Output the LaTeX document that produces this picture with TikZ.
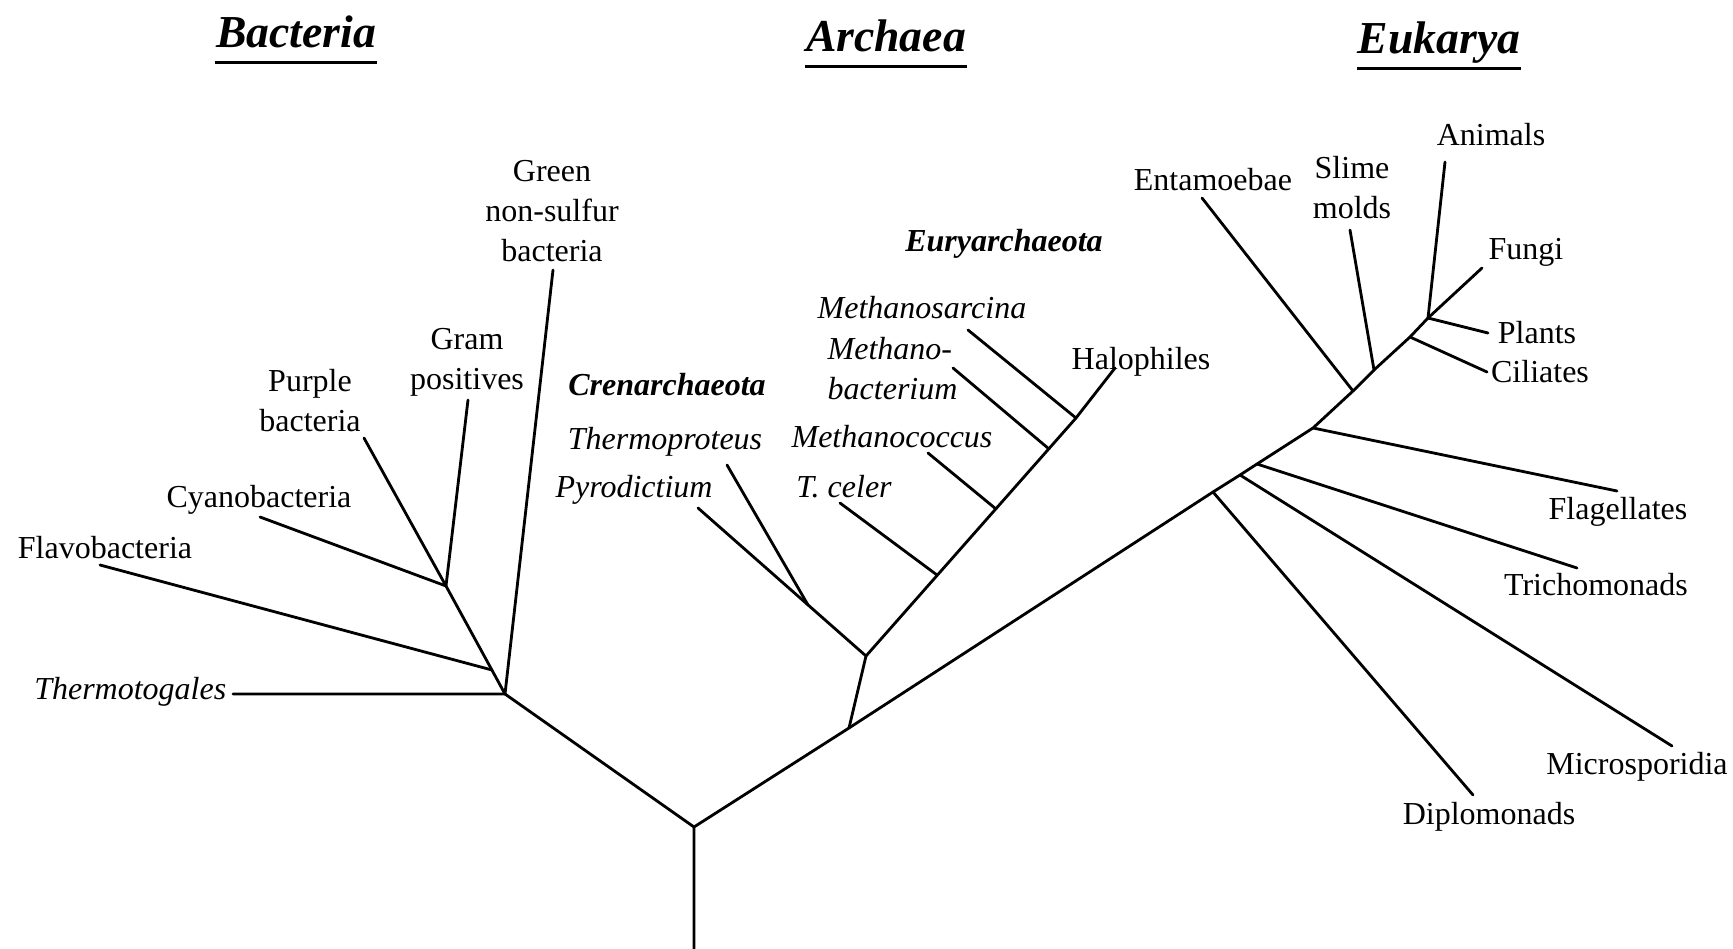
\documentclass[tikz,border=0pt]{standalone}
\usepackage{fontspec}
\setmainfont{Liberation Serif}
\usepackage{tikz}
\usetikzlibrary{positioning}
\tikzstyle{taxon} = [inner sep=0pt, align=center, font=\fontsize{9.1}{11.4}\selectfont]
\tikzstyle{genus} = [taxon, font=\fontsize{9.1}{11.4}\selectfont\itshape]
\tikzstyle{phylum} = [taxon, font=\fontsize{9.1}{11.4}\selectfont\bfseries\itshape]
\tikzstyle{realm} = [inner sep=0pt, anchor=base, font=\fontsize{13}{15}\selectfont\bfseries\itshape]
\tikzstyle{twig} = [line width=0.8pt, line cap=round]
\tikzstyle{uline} = [line width=1.1pt]
\def\ul{0.145cm}

\begin{document}
\begin{tikzpicture}[x=0.01cm, y=-0.01cm]
\useasboundingbox (0,0) rectangle (1733,949);

% domains
\node (bact) [realm] at (296,48) {Bacteria};
\node (arch) [realm] at (886,52) {Archaea};
\node (euk) [realm] at (1439,54) {Eukarya};
\draw [uline] ([yshift=-\ul]bact.base west) -- ([yshift=-\ul]bact.base east);
\draw [uline] ([yshift=-\ul]arch.base west) -- ([yshift=-\ul]arch.base east);
\draw [uline] ([yshift=-\ul]euk.base west) -- ([yshift=-\ul]euk.base east);

% junctions
\coordinate (rootEnd) at (694,949);
\coordinate (root) at (694,827);
\coordinate (bJ) at (505,694);
\coordinate (bFla) at (492,670);
\coordinate (bSub) at (446,586);
\coordinate (aJ) at (849,728);
\coordinate (aSplit) at (866,656);
\coordinate (cThp) at (808,605);
\coordinate (eTce) at (937,575);
\coordinate (eMco) at (996,509);
\coordinate (eMba) at (1049,449);
\coordinate (eMsa) at (1076,418);
\coordinate (kDip) at (1213,492);
\coordinate (kMic) at (1240,475);
\coordinate (kTri) at (1257,464);
\coordinate (kFla) at (1313,428);
\coordinate (kEnt) at (1353,391);
\coordinate (kSli) at (1374,370);
\coordinate (kCil) at (1410,337);
\coordinate (kTop) at (1428,318);

% tips
\coordinate (thermoEnd) at (233,694);
\coordinate (flavEnd) at (100,565);
\coordinate (cyanoEnd) at (260,517);
\coordinate (purpleEnd) at (364,438);
\coordinate (gramEnd) at (468,400);
\coordinate (greenEnd) at (553,270);
\coordinate (pyroEnd) at (698,508);
\coordinate (thpEnd) at (727,465);
\coordinate (tceEnd) at (840,503);
\coordinate (mcoEnd) at (928,453);
\coordinate (mbaEnd) at (953,368);
\coordinate (msaEnd) at (968,330);
\coordinate (haloEnd) at (1115,368);
\coordinate (dipEnd) at (1473,795);
\coordinate (micEnd) at (1672,746);
\coordinate (triEnd) at (1577,568);
\coordinate (flaEnd) at (1617,491);
\coordinate (entEnd) at (1202,198);
\coordinate (sliEnd) at (1350,230);
\coordinate (aniEnd) at (1445,162);
\coordinate (funEnd) at (1482,268);
\coordinate (plaEnd) at (1488,333);
\coordinate (cilEnd) at (1487,372);

% labels
\node (thermo) [genus, anchor=east] at (227,692) {Thermotogales};
\node (flav) [taxon] at (105,548) {Flavobacteria};
\node (cyano) [taxon] at (259,500) {Cyanobacteria};
\node (purple) [taxon] at (310,401) {Purple\\bacteria};
\node (gram) [taxon] at (467,362) {Gram\\positives};
\node (green) [taxon] at (552,211) {Green\\non-sulfur\\bacteria};

\node (cren) [phylum] at (667,385) {Crenarchaeota};
\node (thp) [genus] at (665,442) {Thermoproteus};
\node (pyro) [genus] at (634,490) {Pyrodictium};
\node (eury) [phylum] at (1004,244) {Euryarchaeota};
\node (msa) [genus] at (922,308) {Methanosarcina};
\node (mba) [genus, align=left, anchor=west] at (827,369) {Methano-\\bacterium};
\node (mco) [genus] at (892,437) {Methanococcus};
\node (tce) [genus] at (844,487) {T.~celer};
\node (halo) [taxon] at (1141,362) {Halophiles};

\node (ent) [taxon] at (1213,180) {Entamoebae};
\node (sli) [taxon] at (1352,188) {Slime\\molds};
\node (ani) [taxon] at (1491,135) {Animals};
\node (fun) [taxon] at (1526,252) {Fungi};
\node (pla) [taxon] at (1537,333) {Plants};
\node (cil) [taxon] at (1540,372) {Ciliates};
\node (fla) [taxon] at (1618,512) {Flagellates};
\node (tri) [taxon] at (1596,585) {Trichomonads};
\node (mic) [taxon] at (1637,767) {Microsporidia};
\node (dip) [taxon] at (1489,817) {Diplomonads};

% trunk
\draw [twig] (rootEnd) -- (root) -- (aJ) -- (kDip) -- (kMic) -- (kTri) -- (kFla) -- (kEnt) -- (kSli) -- (kCil) -- (kTop);
\draw [twig] (root) -- (bJ);

% bacteria
\draw [twig] (thermoEnd) -- (bJ) -- (greenEnd);
\draw [twig] (bJ) -- (bSub);
\draw [twig] (bFla) -- (flavEnd);
\draw [twig] (bSub) -- (cyanoEnd);
\draw [twig] (bSub) -- (purpleEnd);
\draw [twig] (bSub) -- (gramEnd);

% archaea
\draw [twig] (aJ) -- (aSplit) -- (pyroEnd);
\draw [twig] (cThp) -- (thpEnd);
\draw [twig] (aSplit) -- (eMsa) -- (haloEnd);
\draw [twig] (eTce) -- (tceEnd);
\draw [twig] (eMco) -- (mcoEnd);
\draw [twig] (eMba) -- (mbaEnd);
\draw [twig] (eMsa) -- (msaEnd);

% eukarya
\draw [twig] (kDip) -- (dipEnd);
\draw [twig] (kMic) -- (micEnd);
\draw [twig] (kTri) -- (triEnd);
\draw [twig] (kFla) -- (flaEnd);
\draw [twig] (kEnt) -- (entEnd);
\draw [twig] (kSli) -- (sliEnd);
\draw [twig] (kCil) -- (cilEnd);
\draw [twig] (kTop) -- (plaEnd);
\draw [twig] (kTop) -- (funEnd);
\draw [twig] (kTop) -- (aniEnd);

\end{tikzpicture}
\end{document}
